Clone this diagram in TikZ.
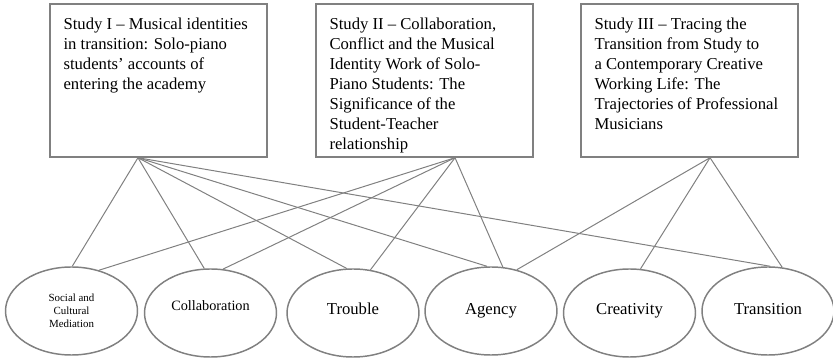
\documentclass[tikz,border=0pt]{standalone}
\usepackage{fontspec}
\setmainfont{Liberation Serif}
\usetikzlibrary{shapes.geometric}

\tikzset{
    study/.style={draw=gray, line width=1.1pt, minimum width=162.75pt,
        minimum height=114.75pt, inner sep=0pt},
    studytext/.style={anchor=north west, align=left, inner xsep=10.5pt,
        inner ysep=10.5pt, font=\fontsize{12.5}{15}\selectfont},
    theme/.style={ellipse, draw=gray, line width=1.1pt, minimum width=99pt,
        minimum height=66pt, inner sep=1pt, align=center,
        font=\fontsize{12.5}{15}\selectfont},
    % one-line labels sit on a common baseline
    oneline/.style={text height=#1, text depth=0pt},
    oneline/.default=3pt,
    link/.style={draw=gray, line width=0.75pt}
}

\begin{document}
\begin{tikzpicture}[x=0.75pt, y=-0.75pt]
            \useasboundingbox (0,0) rectangle (833,359);
            % studies
            \node [study] (s1) at (158.5,80.5) {};
            \node [study] (s2) at (424.5,80.5) {};
            \node [study] (s3) at (689.5,80.5) {};
            \node [studytext] (t1) at (s1.north west) {Study I – Musical identities\\
                in transition: Solo-piano\\ students’ accounts of\\ entering the academy};
            \node [studytext] (t2) at (s2.north west) {Study II – Collaboration,\\
                Conflict and the Musical\\ Identity Work of Solo-\\ Piano Students: The\\
                Significance of the\\ Student-Teacher\\ relationship};
            \node [studytext] (t3) at (s3.north west) {Study III – Tracing the\\
                Transition from Study to\\ a Contemporary Creative\\ Working Life: The\\
                Trajectories of Professional\\ Musicians};
            % themes
            \node [theme, font=\fontsize{8.2}{9.8}\selectfont] (soc) at (71.5,311)
                {Social and\\ Cultural\\ Mediation};
            \node [theme, font=\fontsize{10.7}{13}\selectfont, text height=0pt,
                text depth=3pt] (col) at (210.5,313) {Collaboration};
            \node [theme, oneline] (tro) at (353,313) {Trouble};
            \node [theme, oneline=6pt] (age) at (491,311) {Agency};
            \node [theme, oneline] (cre) at (629.5,313) {Creativity};
            \node [theme, oneline=6pt] (tra) at (768,311) {Transition};
            % links
            \coordinate (b1) at ([xshift=-15.4pt]s1.south);
            \coordinate (b2) at ([xshift=22.9pt]s2.south);
            \coordinate (b3) at ([xshift=15.4pt]s3.south);
            \draw [link] (b1) -- (soc.89);
            \draw [link] (b1) -- (col.98);
            \draw [link] (b1) -- (tro.98);
            \draw [link] (b1) -- (age.95);
            \draw [link] (b1) -- (tra.87);
            \draw [link] (b2) -- (soc.56);
            \draw [link] (b2) -- (col.74);
            \draw [link] (b2) -- (tro.68);
            \draw [link] (b2) -- (age.75);
            \draw [link] (b3) -- (age.58);
            \draw [link] (b3) -- (cre.76);
            \draw [link] (b3) -- (tra.72);
        \end{tikzpicture}
\end{document}
